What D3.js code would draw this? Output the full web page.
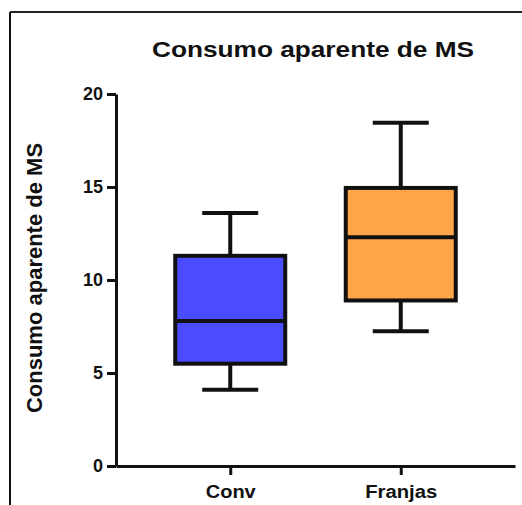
<!DOCTYPE html>
<html>
<head>
<meta charset="utf-8">
<script src="https://cdn.jsdelivr.net/npm/d3@7"></script>
<style>
  body { margin: 0; background: #fff; }
  text { font-family: "Liberation Sans", Arial, sans-serif; font-weight: bold; fill: #111; }
</style>
</head>
<body>
<script>
// box plot data
const groups = ['Conv', 'Franjas'];
const mins = [4.1, 7.25];
const q1s = [5.5, 8.9];
const medians = [7.8, 12.3];
const q3s = [11.3, 14.95];
const maxs = [13.6, 18.45];
const colors = ['#4b4bff', '#ffa54a'];
const yTicks = [0, 5, 10, 15, 20];

const W = 522, H = 505;

const svg = d3.select('body').append('svg')
    .attr('width', W)
    .attr('height', H);

// frame (top and left only, the rest is cropped)
svg.append('line')
    .attr('x1', 10).attr('x2', W).attr('y1', 12).attr('y2', 12)
    .attr('stroke', '#222').attr('stroke-width', 2);
svg.append('line')
    .attr('x1', 10).attr('x2', 10).attr('y1', 12).attr('y2', H)
    .attr('stroke', '#111').attr('stroke-width', 2);

const y = d3.scaleLinear().domain([0, 20]).range([466, 94]);
const x = d3.scalePoint().domain(groups).range([116, 515]).padding(0.67);

const boxW = 110, capW = 56;

// y axis
const yAxis = svg.append('g')
    .attr('transform', 'translate(116,0)')
    .call(d3.axisLeft(y).tickValues(yTicks).tickSize(9).tickPadding(4).tickSizeOuter(0));
yAxis.select('.domain').attr('stroke', '#111').attr('stroke-width', 3);
yAxis.selectAll('.tick line').attr('stroke', '#111').attr('stroke-width', 3);
yAxis.selectAll('.tick text').style('font-size', '18px').style('font-weight', 'bold')
    .attr('fill', '#111').style('font-family', '"Liberation Sans", Arial, sans-serif');

// x axis
const xLabelW = { Conv: 50, Franjas: 72 };
const xAxis = svg.append('g')
    .attr('transform', 'translate(0,466)')
    .call(d3.axisBottom(x).tickSize(9).tickPadding(10).tickSizeOuter(0));
xAxis.select('.domain').attr('stroke', '#111').attr('stroke-width', 3);
xAxis.selectAll('.tick line').attr('stroke', '#111').attr('stroke-width', 3);
xAxis.selectAll('.tick text').style('font-size', '18px').style('font-weight', 'bold')
    .attr('fill', '#111').style('font-family', '"Liberation Sans", Arial, sans-serif')
    .attr('textLength', d => xLabelW[d]).attr('lengthAdjust', 'spacingAndGlyphs');

// boxes
const boxes = svg.selectAll('g.box')
    .data(groups)
    .enter()
  .append('g')
    .attr('class', 'box');

// whiskers
boxes.append('line')
    .attr('x1', d => x(d)).attr('x2', d => x(d))
    .attr('y1', (d, i) => y(maxs[i])).attr('y2', (d, i) => y(q3s[i]))
    .attr('stroke', '#111').attr('stroke-width', 4);
boxes.append('line')
    .attr('x1', d => x(d)).attr('x2', d => x(d))
    .attr('y1', (d, i) => y(q1s[i])).attr('y2', (d, i) => y(mins[i]))
    .attr('stroke', '#111').attr('stroke-width', 4);
boxes.append('line')
    .attr('x1', d => x(d) - capW / 2).attr('x2', d => x(d) + capW / 2)
    .attr('y1', (d, i) => y(maxs[i])).attr('y2', (d, i) => y(maxs[i]))
    .attr('stroke', '#111').attr('stroke-width', 4);
boxes.append('line')
    .attr('x1', d => x(d) - capW / 2).attr('x2', d => x(d) + capW / 2)
    .attr('y1', (d, i) => y(mins[i])).attr('y2', (d, i) => y(mins[i]))
    .attr('stroke', '#111').attr('stroke-width', 4);

boxes.append('rect')
    .attr('x', d => x(d) - boxW / 2)
    .attr('width', boxW)
    .attr('y', (d, i) => y(q3s[i]))
    .attr('height', (d, i) => y(q1s[i]) - y(q3s[i]))
    .attr('fill', (d, i) => colors[i])
    .attr('stroke', '#111').attr('stroke-width', 4);

boxes.append('line')
    .attr('x1', d => x(d) - boxW / 2).attr('x2', d => x(d) + boxW / 2)
    .attr('y1', (d, i) => y(medians[i])).attr('y2', (d, i) => y(medians[i]))
    .attr('stroke', '#111').attr('stroke-width', 4);

// title
svg.append('text')
    .attr('x', 313).attr('y', 57)
    .attr('text-anchor', 'middle')
    .style('font-size', '22px')
    .attr('textLength', 322).attr('lengthAdjust', 'spacingAndGlyphs')
    .text('Consumo aparente de MS');

// y label
svg.append('text')
    .attr('transform', 'translate(42,278) rotate(-90)')
    .attr('text-anchor', 'middle')
    .style('font-size', '22px')
    .text('Consumo aparente de MS');
</script>
</body>
</html>
